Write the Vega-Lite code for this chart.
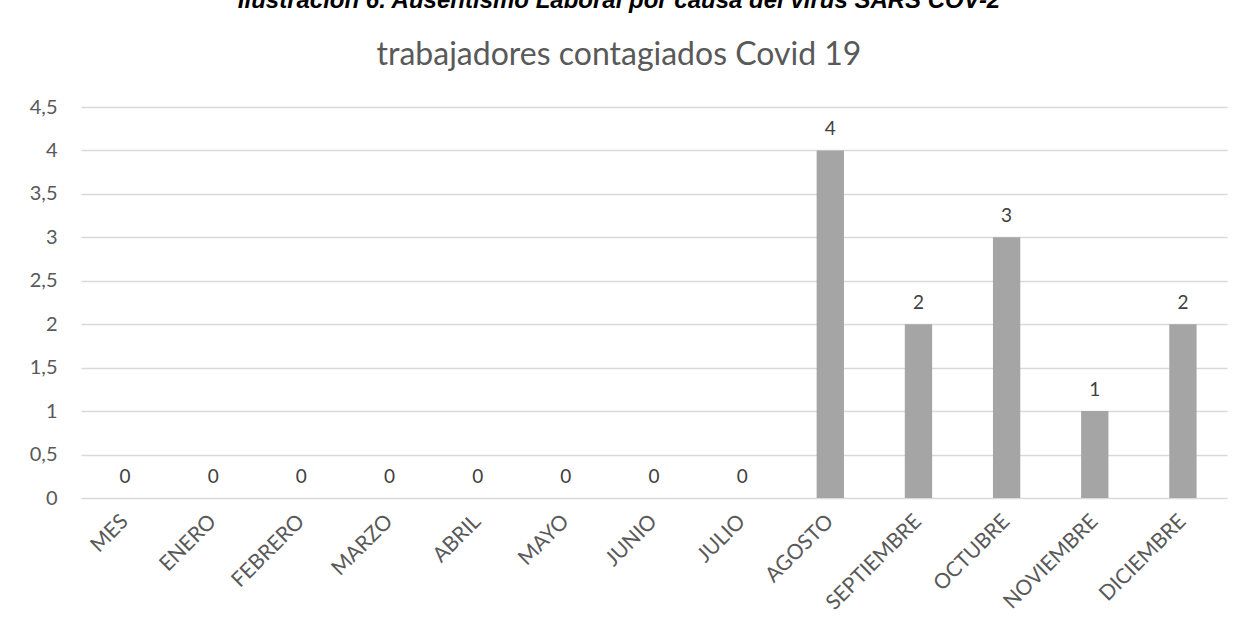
{
  "$schema": "https://vega.github.io/schema/vega-lite/v6.json",
  "width": 1146,
  "height": 391,
  "padding": {"left": 29, "top": -11, "right": 20, "bottom": 5},
  "background": "white",
  "title": {
    "text": "Ilustración 6. Ausentismo Laboral por causa del virus SARS COV-2",
    "subtitle": "trabajadores contagiados Covid 19",
    "font": "Liberation Sans",
    "fontSize": 24,
    "fontStyle": "italic",
    "fontWeight": "bold",
    "color": "#000000",
    "anchor": "middle",
    "dx": -35,
    "subtitleFont": "Lato",
    "subtitleFontSize": 32,
    "subtitleColor": "#595959",
    "subtitlePadding": 27,
    "offset": 26
  },
  "data": {
    "values": [
      {"mes": "MES", "valor": 0},
      {"mes": "ENERO", "valor": 0},
      {"mes": "FEBRERO", "valor": 0},
      {"mes": "MARZO", "valor": 0},
      {"mes": "ABRIL", "valor": 0},
      {"mes": "MAYO", "valor": 0},
      {"mes": "JUNIO", "valor": 0},
      {"mes": "JULIO", "valor": 0},
      {"mes": "AGOSTO", "valor": 4},
      {"mes": "SEPTIEMBRE", "valor": 2},
      {"mes": "OCTUBRE", "valor": 3},
      {"mes": "NOVIEMBRE", "valor": 1},
      {"mes": "DICIEMBRE", "valor": 2}
    ]
  },
  "encoding": {
    "x": {
      "field": "mes",
      "type": "nominal",
      "sort": null,
      "scale": {"paddingInner": 0.69, "paddingOuter": 0.345},
      "axis": {
        "title": null,
        "labelAngle": -45,
        "labelFont": "Lato",
        "labelFontSize": 21,
        "labelColor": "#595959",
        "ticks": false,
        "domain": false,
        "labelPadding": 20,
        "labelAlign": "right",
        "labelBaseline": "middle"
      }
    },
    "y": {
      "field": "valor",
      "type": "quantitative",
      "scale": {"domain": [0, 4.5], "nice": false},
      "axis": {
        "title": null,
        "values": [0, 0.5, 1, 1.5, 2, 2.5, 3, 3.5, 4, 4.5],
        "labelExpr": "replace(format(datum.value, '~g'), '.', ',')",
        "labelFont": "Lato",
        "labelFontSize": 20,
        "labelColor": "#595959",
        "ticks": false,
        "domain": false,
        "grid": true,
        "gridColor": "#d9d9d9",
        "gridWidth": 1.3,
        "labelPadding": 24
      }
    }
  },
  "layer": [
    {"mark": {"type": "bar", "color": "#a5a5a5"}},
    {
      "mark": {"type": "text", "baseline": "bottom", "dy": -11, "font": "Lato", "fontSize": 19, "color": "#404040"},
      "encoding": {"text": {"field": "valor", "type": "quantitative"}}
    }
  ],
  "config": {"view": {"stroke": null}}
}
